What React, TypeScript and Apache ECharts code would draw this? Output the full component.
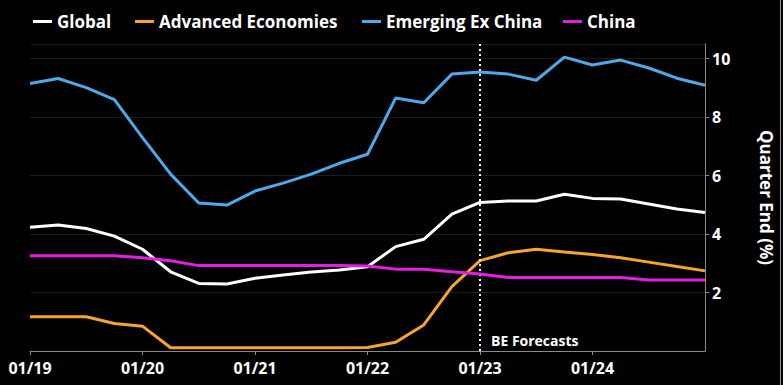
import React, { useEffect, useRef } from "react";
import * as echarts from "echarts";

const categories = [
  "01/19", "04/19", "07/19", "10/19",
  "01/20", "04/20", "07/20", "10/20",
  "01/21", "04/21", "07/21", "10/21",
  "01/22", "04/22", "07/22", "10/22",
  "01/23", "04/23", "07/23", "10/23",
  "01/24", "04/24", "07/24", "10/24",
  "01/25",
];

const globalData = [4.23, 4.31, 4.19, 3.93, 3.48, 2.71, 2.31, 2.29, 2.49, 2.6, 2.7, 2.77, 2.88, 3.57, 3.82, 4.68, 5.08, 5.13, 5.13, 5.36, 5.22, 5.2, 5.03, 4.86, 4.74];
const advancedData = [1.17, 1.17, 1.17, 0.94, 0.85, 0.11, 0.11, 0.11, 0.11, 0.11, 0.11, 0.11, 0.12, 0.3, 0.89, 2.2, 3.09, 3.36, 3.48, 3.39, 3.3, 3.19, 3.04, 2.89, 2.74];
const emergingData = [9.15, 9.32, 9.01, 8.6, 7.3, 6.05, 5.06, 4.99, 5.47, 5.74, 6.05, 6.42, 6.73, 8.65, 8.49, 9.47, 9.54, 9.47, 9.26, 10.05, 9.78, 9.95, 9.68, 9.33, 9.09];
const chinaData = [3.26, 3.26, 3.26, 3.26, 3.19, 3.09, 2.92, 2.92, 2.92, 2.92, 2.92, 2.92, 2.91, 2.8, 2.8, 2.71, 2.63, 2.51, 2.51, 2.51, 2.51, 2.51, 2.43, 2.43, 2.43];

const seriesNames = ["Global", "Advanced Economies", "Emerging Ex China", "China"];
const seriesColors = ["#ffffff", "#f5a52e", "#4fa9e8", "#e21fe3"];
const legendLefts = [33, 135, 362, 563];
const forecastStart = "01/23";
const forecastLabel = "BE Forecasts";
const yAxisName = "Quarter End (%)";

const FONT = "'Open Sans', Lato, sans-serif";

export default function App() {
  const ref = useRef<HTMLDivElement>(null);

  useEffect(() => {
    if (!ref.current) return;
    const chart = echarts.init(ref.current, null, { renderer: "svg" });
    const dataSets = [globalData, advancedData, emergingData, chinaData];
    const lastLabelIdx = categories.length - 1;

    const series: any[] = dataSets.map((d, i) => ({
      name: seriesNames[i],
      type: "line",
      data: d,
      symbol: "none",
      lineStyle: { color: seriesColors[i], width: 3 },
      itemStyle: { color: seriesColors[i] },
      z: 3 + i,
    }));
    series[0].markLine = {
      silent: true,
      symbol: "none",
      label: { show: false },
      lineStyle: { color: "#ffffff", type: [2, 3], width: 2 },
      data: [{ xAxis: forecastStart }],
    };

    const legends = seriesNames.map((n, i) => ({
      left: legendLefts[i],
      top: 13,
      padding: 0,
      itemWidth: 19,
      itemHeight: 3,
      itemGap: 0,
      icon: "rect",
      textStyle: { color: "#ffffff", fontSize: 17, fontWeight: "bold", fontFamily: FONT },
      data: [n],
    }));

    chart.setOption({
      animation: false,
      backgroundColor: "#000000",
      textStyle: { fontFamily: FONT },
      legend: legends,
      grid: { left: 30, right: 74, top: 44, bottom: 34, containLabel: false },
      xAxis: {
        type: "category",
        data: categories,
        boundaryGap: false,
        axisLine: { lineStyle: { color: "#8a8a8a", width: 1 } },
        axisTick: {
          show: true,
          length: 4,
          lineStyle: { color: "#8a8a8a" },
          interval: (idx: number) => idx % 4 === 0 && idx < lastLabelIdx,
        },
        axisLabel: {
          color: "#ffffff",
          fontSize: 16,
          fontWeight: "bold",
          fontFamily: FONT,
          margin: 9,
          interval: (idx: number) => idx % 4 === 0 && idx < lastLabelIdx,
        },
        splitLine: { show: false },
      },
      yAxis: {
        type: "value",
        position: "right",
        min: 0,
        max: 10.5,
        interval: 2,
        name: yAxisName,
        nameLocation: "middle",
        nameRotate: -90,
        nameGap: 53,
        nameTextStyle: { color: "#ffffff", fontSize: 17, fontWeight: "bold", fontFamily: FONT },
        axisLine: { show: true, lineStyle: { color: "#8a8a8a", width: 1 } },
        axisTick: { show: true, length: 4, lineStyle: { color: "#8a8a8a" } },
        axisLabel: {
          color: "#ffffff",
          fontSize: 16,
          fontWeight: "bold",
          fontFamily: FONT,
          margin: 7,
          showMinLabel: false,
          showMaxLabel: false,
          formatter: (v: number) => (v === 0 || v > 10 ? "" : String(v)),
        },
        splitLine: { show: true, lineStyle: { color: "#1c1c1c", width: 1 } },
      },
      graphic: [
        {
          type: "text",
          x: 491,
          y: 340,
          style: {
            text: forecastLabel,
            fill: "#ffffff",
            fontSize: 14,
            fontWeight: "bold",
            fontFamily: FONT,
            verticalAlign: "middle",
          },
        },
        {
          type: "line",
          shape: { x1: 780.5, y1: 0, x2: 780.5, y2: 385 },
          style: { stroke: "#9a9a9a", lineWidth: 1 },
        },
      ],
      series,
    });
    return () => chart.dispose();
  }, []);

  return (
    <div
      ref={ref}
      style={{ position: "absolute", left: 0, top: 0, width: 783, height: 385, background: "#000" }}
    />
  );
}
